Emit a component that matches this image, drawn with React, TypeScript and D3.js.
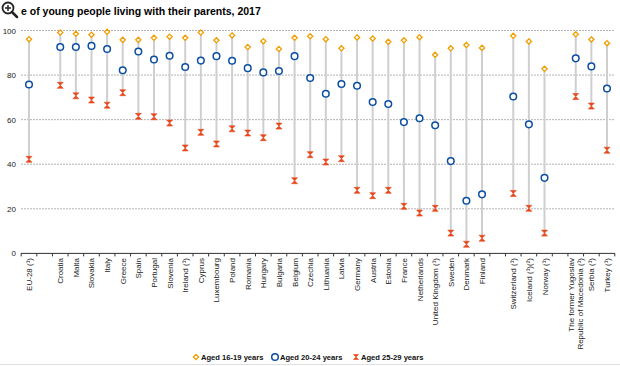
import React from "react";
import * as d3 from "d3";

const categories: string[] = [
  "EU-28 (¹)", "", "Croatia", "Malta", "Slovakia", "Italy", "Greece", "Spain", "Portugal", "Slovenia",
  "Ireland (¹)", "Cyprus", "Luxembourg", "Poland", "Romania", "Hungary", "Bulgaria", "Belgium", "Czechia",
  "Lithuania", "Latvia", "Germany", "Austria", "Estonia", "France", "Netherlands", "United Kingdom (¹)",
  "Sweden", "Denmark", "Finland", " ", "Switzerland (¹)", "Iceland (¹)(²)", "Norway (¹)", "  ",
  "The former Yugoslav\nRepublic of Macedonia (¹)", "Serbia (¹)", "Turkey (¹)",
];

const aged1619: (number | null)[] = [
  96.1, null, 99.1, 98.5, 98.1, 99.4, 95.8, 95.8, 96.7, 97.2,
  96.7, 99.1, 95.6, 97.8, 92.6, 95.2, 91.7, 96.7, 97.4,
  96.1, 92.0, 96.9, 96.4, 94.9, 95.6, 97.0, 89.1,
  92.0, 93.5, 92.2, null, 97.6, 95.1, 82.8, null,
  98.3, 96.0, 94.3,
];
const aged2024: (number | null)[] = [
  75.8, null, 92.6, 92.6, 93.1, 91.7, 82.2, 90.6, 87.0, 88.7,
  83.6, 86.5, 88.5, 86.4, 83.1, 81.2, 81.8, 88.5, 78.7,
  71.6, 76.0, 75.2, 67.9, 67.0, 58.9, 60.6, 57.5,
  41.4, 23.6, 26.5, null, 70.4, 57.9, 33.9, null,
  87.5, 83.9, 74.0,
];
const aged2529: (number | null)[] = [
  42.2, null, 75.4, 70.7, 68.8, 66.5, 72.1, 61.5, 61.3, 58.5,
  47.3, 54.3, 49.1, 55.9, 54.0, 51.9, 57.1, 32.6, 44.3,
  41.0, 42.5, 28.3, 25.9, 28.3, 21.1, 18.1, 20.2,
  9.1, 4.1, 6.8, null, 26.9, 20.2, 9.1, null,
  70.4, 66.1, 46.3,
];
const yTicks: number[] = [0, 20, 40, 60, 80, 100];
const legendLabels: string[] = ["Aged 16-19 years", "Aged 20-24 years", "Aged 25-29 years"];

const ORANGE = "#f29d00";
const BLUE = "#0b4ea2";
const RED = "#e8481c";
const FONT = "Liberation Sans, Arial, sans-serif";

export default function App() {
  const W = 620, H = 366;
  const x = d3.scaleBand<string>().domain(categories).range([21.2, 614.8]).paddingInner(0).paddingOuter(0);
  const y = d3.scaleLinear().domain([0, 100]).range([253.4, 30.5]);
  const cx = (c: string) => (x(c) as number) + x.bandwidth() / 2;
  const boundaries = d3.range(categories.length + 1).map((i) => 21.2 + i * x.step());

  const diamond = (px: number, py: number, key: string, color = ORANGE) => (
    <path key={key} d={`M${px},${py - 2.6}L${px + 2.6},${py}L${px},${py + 2.6}L${px - 2.6},${py}Z`}
      fill="#fff" stroke={color} strokeWidth={1.3} />
  );
  const circle = (px: number, py: number, key: string) => (
    <circle key={key} cx={px} cy={py} r={3.3} fill="#fff" stroke={BLUE} strokeWidth={1.5} />
  );
  const bowtie = (px: number, py: number, key: string, s = 3) => (
    <path key={key}
      d={`M${px - s},${py - s}L${px + s},${py - s}L${px - s},${py + s}L${px + s},${py + s}Z`}
      fill={RED} stroke={RED} strokeWidth={0.6} />
  );

  return (
    <svg width={W} height={H} style={{ position: "absolute", left: 0, top: 0, background: "#fff" }}
      fontFamily={FONT}>
      {/* title with magnifier icon */}
      <text x={21} y={15} fontSize={10.5} fontWeight="bold" fill="#000">e of young people living with their parents, 2017</text>
      <g>
        <circle cx={8} cy={8} r={5.5} fill="#fff" stroke="#222" strokeWidth={1.8} />
        <line x1={12} y1={12} x2={17} y2={17} stroke="#222" strokeWidth={2.5} strokeLinecap="round" />
        <line x1={5} y1={8} x2={11} y2={8} stroke="#222" strokeWidth={1.5} />
        <line x1={8} y1={5} x2={8} y2={11} stroke="#222" strokeWidth={1.5} />
      </g>

      {/* grid */}
      {yTicks.filter((t) => t > 0).map((t) => (
        <line key={"g" + t} x1={21} x2={615} y1={y(t)} y2={y(t)} stroke="#b4b4b4" strokeWidth={1}
          strokeDasharray="2,1" />
      ))}
      {yTicks.map((t) => (
        <text key={"yl" + t} x={16} y={y(t) + 3} fontSize={8} textAnchor="end" fill="#222">{t}</text>
      ))}

      {/* x axis */}
      <line x1={21} x2={615} y1={y(0)} y2={y(0)} stroke="#333" strokeWidth={1} />
      {boundaries.map((b, i) => (
        <line key={"t" + i} x1={b} x2={b} y1={y(0)} y2={y(0) + 3} stroke="#333" strokeWidth={1} />
      ))}

      {/* range lines */}
      {categories.map((c, i) => {
        const vals = [aged1619[i], aged2024[i], aged2529[i]].filter((v) => v != null) as number[];
        if (!vals.length) return null;
        return (
          <line key={"r" + i} x1={cx(c)} x2={cx(c)} y1={y(d3.max(vals)!)} y2={y(d3.min(vals)!)}
            stroke="#cfcfcf" strokeWidth={2} />
        );
      })}

      {categories.map((c, i) => aged2529[i] != null ? bowtie(cx(c), y(aged2529[i]!), "c" + i) : null)}
      {categories.map((c, i) => aged2024[i] != null ? circle(cx(c), y(aged2024[i]!), "b" + i) : null)}
      {categories.map((c, i) => aged1619[i] != null ? diamond(cx(c), y(aged1619[i]!), "a" + i) : null)}

      {/* category labels */}
      {categories.map((c, i) => {
        if (!c.trim()) return null;
        const lines = c.split("\n");
        const px = cx(c);
        const py = 258;
        return (
          <text key={"xl" + i} transform={`translate(${px},${py}) rotate(-90)`} fontSize={8}
            textAnchor="end" fill="#222">
            {lines.map((ln, j) => (
              <tspan key={j} x={0} dy={j === 0 ? (lines.length > 1 ? -1.5 : 3) : 9}>{ln}</tspan>
            ))}
          </text>
        );
      })}

      {/* legend */}
      {diamond(196, 357, "la")}
      <text x={201} y={360} fontSize={7.6} fontWeight="bold" fill="#111">{legendLabels[0]}</text>
      {circle(275, 357, "lb")}
      <text x={280} y={360} fontSize={7.6} fontWeight="bold" fill="#111">{legendLabels[1]}</text>
      {bowtie(356, 357, "lc", 2.5)}
      <text x={361} y={360} fontSize={7.6} fontWeight="bold" fill="#111">{legendLabels[2]}</text>
      <line x1={0} x2={620} y1={364.5} y2={364.5} stroke="#e0e0e0" strokeWidth={1} />
    </svg>
  );
}
